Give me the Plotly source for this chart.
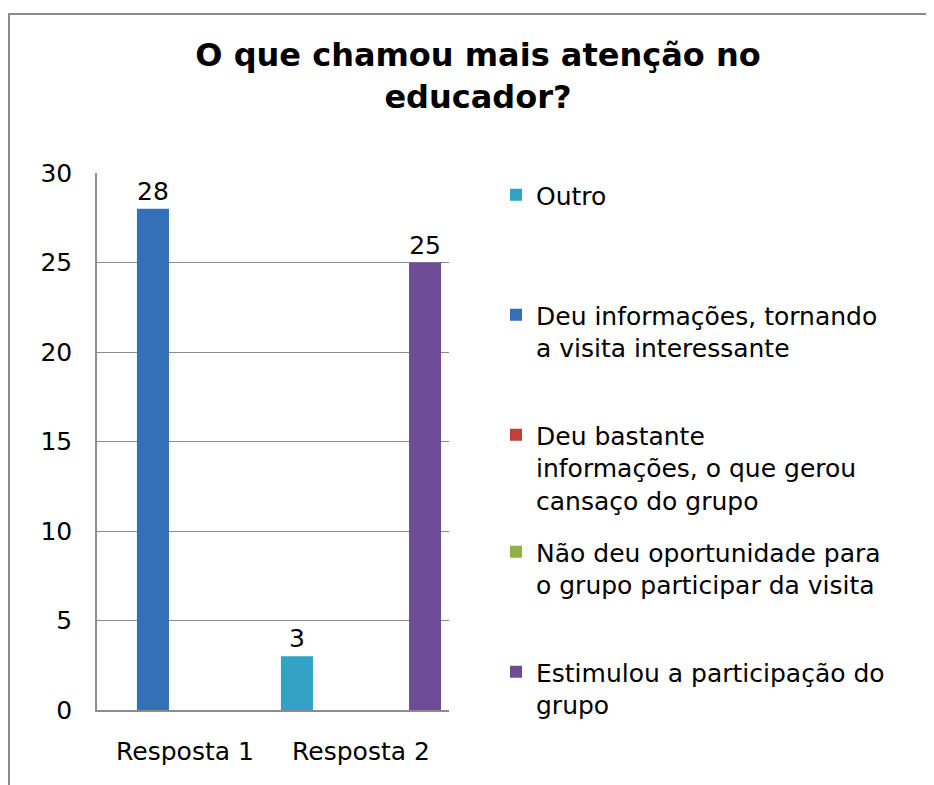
import plotly.graph_objects as go

# the page has an 8px body margin, so work in reference pixels minus OFF
OFF = 8
W, H = 934 - OFF, 785 - OFF
# plot area in reference pixels
L, R, T, B = 97, 449, 173, 710

categories = ['Resposta 1', 'Resposta 2']
series_names = ['Outro',
                'Deu informações, tornando<br>a visita interessante',
                'Deu bastante<br>informações, o que gerou<br>cansaço do grupo',
                'Não deu oportunidade para<br>o grupo participar da visita',
                'Estimulou a participação do<br>grupo']
outro = [None, 3]
deu_info = [28, None]
deu_bastante = [None, None]
nao_deu = [None, None]
estimulou = [None, 25]
series_values = [outro, deu_info, deu_bastante, nao_deu, estimulou]
colors = ['#31a2c4', '#356fb6', '#c0403c', '#8db443', '#6e4c96']

# first line centre of each legend entry (reference px)
legend_rows = [196, 316, 436, 553, 673]

FONT = 'DejaVu Sans'


def px_x(x):
    return (x - L) / (R - L)


def px_y(y):
    return (B - y) / (B - T)


fig = go.Figure()
legend_ids = ['legend', 'legend2', 'legend3', 'legend4', 'legend5']
for name, vals, col, lid in zip(series_names, series_values, colors, legend_ids):
    fig.add_trace(go.Bar(x=categories, y=vals, name=name, marker_color=col,
                         marker_line_width=0, showlegend=True,
                         text=[v if v is not None else '' for v in vals],
                         textposition='outside', cliponaxis=False,
                         textfont=dict(family=FONT, size=25, color='black'),
                         legend=lid))

layout_legends = {}
for lid, yc in zip(legend_ids, legend_rows):
    layout_legends[lid] = dict(x=px_x(496), xanchor='left',
                               y=px_y(yc - 24), yanchor='top',
                               valign='top', itemwidth=30,
                               font=dict(family=FONT, size=25, color='black'),
                               bgcolor='rgba(0,0,0,0)')

fig.update_layout(
    width=W, height=H,
    margin=dict(l=L - OFF, r=W - (R - OFF), t=T - OFF, b=H - (B - OFF)),
    paper_bgcolor='white', plot_bgcolor='white',
    showlegend=True,
    barmode='group', bargap=0.09, bargroupgap=0,
    font=dict(family=FONT, size=25, color='black'),
    title=dict(text='<b>O que chamou mais atenção no<br>educador?</b>',
               x=(478 - OFF) / W, xanchor='center', xref='container',
               y=1 - (66 - OFF) / H, yanchor='top', yref='container',
               font=dict(family=FONT, size=32, color='black')),
    **layout_legends,
)

fig.update_yaxes(range=[0, 30], dtick=5, showgrid=True, gridcolor='#8c8c8c',
                 gridwidth=1.3, showline=True, linecolor='#8c8c8c', linewidth=1.5,
                 zeroline=False, ticks='', ticklabelstandoff=18,
                 tickfont=dict(family=FONT, size=25, color='black'))
fig.update_xaxes(showline=True, linecolor='#8c8c8c', linewidth=1.5,
                 ticks='', ticklabelstandoff=18,
                 tickfont=dict(family=FONT, size=25, color='black'))

# chart area border
fig.add_shape(type='rect', xref='paper', yref='paper',
              x0=px_x(9), x1=px_x(933), y0=px_y(800), y1=px_y(14),
              line=dict(color='#8c8c8c', width=2), fillcolor='rgba(0,0,0,0)',
              layer='below')

fig.write_html("out.html")
